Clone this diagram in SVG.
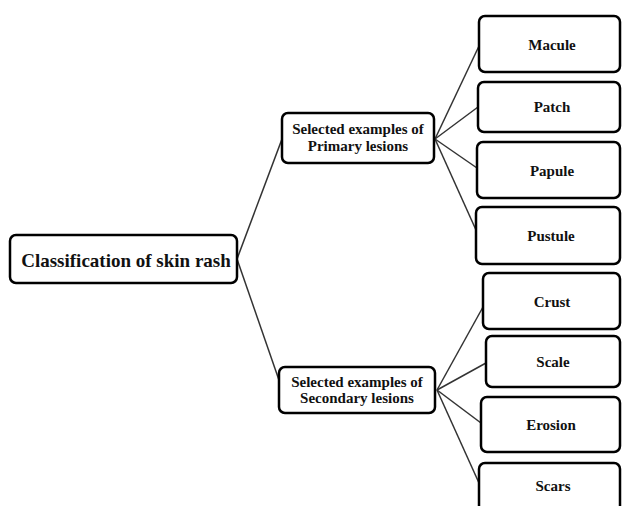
<svg xmlns="http://www.w3.org/2000/svg" width="622" height="506" viewBox="0 0 622 506">
<style>
.box{fill:#fff;stroke:#000;stroke-width:2.5}
.t{font-family:'Liberation Serif','Times New Roman','DejaVu Serif',Times,serif;font-weight:bold;fill:#111;text-anchor:middle;dominant-baseline:central}
.lf{font-size:15px}
.mid{font-size:15px}
.root{font-size:19px}
.con line{stroke:#333;stroke-width:1.5}
</style>
<rect width="622" height="506" fill="#fff"/>
<g id="connectors" class="con">
<line x1="237" y1="259" x2="282" y2="139"/>
<line x1="237" y1="259" x2="280" y2="383"/>
<line x1="435" y1="139" x2="479" y2="46"/>
<line x1="435" y1="139" x2="478" y2="107"/>
<line x1="435" y1="139" x2="477" y2="168"/>
<line x1="435" y1="139" x2="476" y2="230"/>
<line x1="437" y1="390" x2="483" y2="307"/>
<line x1="437" y1="390" x2="486" y2="363"/>
<line x1="437" y1="390" x2="481" y2="423"/>
<line x1="437" y1="390" x2="479" y2="483"/>
</g>
<g font-family="Liberation Serif, serif">
<g id="root"><rect class="box" x="10" y="235" width="227" height="48" rx="6"/><text class="t root" x="126" y="260">Classification of skin rash</text></g>
<g id="primary"><rect class="box" x="282" y="113" width="152" height="50" rx="6"/><text class="t mid" x="358" y="129">Selected examples of</text><text class="t mid" x="358" y="146">Primary lesions</text></g>
<g id="secondary"><rect class="box" x="279" y="367" width="156" height="46" rx="6"/><text class="t mid" x="357" y="382">Selected examples of</text><text class="t mid" x="357" y="398">Secondary lesions</text></g>
<g id="macule"><rect class="box" x="479" y="16" width="141" height="56" rx="6"/><text class="t lf" x="552" y="45">Macule</text></g>
<g id="patch"><rect class="box" x="478" y="82" width="142" height="50" rx="6"/><text class="t lf" x="552" y="107">Patch</text></g>
<g id="papule"><rect class="box" x="477" y="142" width="143" height="56" rx="6"/><text class="t lf" x="552" y="171">Papule</text></g>
<g id="pustule"><rect class="box" x="476" y="207" width="144" height="57" rx="6"/><text class="t lf" x="551" y="236">Pustule</text></g>
<g id="crust"><rect class="box" x="483" y="273" width="137" height="56" rx="6"/><text class="t lf" x="552" y="302">Crust</text></g>
<g id="scale"><rect class="box" x="486" y="336" width="134" height="51" rx="6"/><text class="t lf" x="553" y="362">Scale</text></g>
<g id="erosion"><rect class="box" x="481" y="397" width="139" height="55" rx="6"/><text class="t lf" x="551" y="425">Erosion</text></g>
<g id="scars"><rect class="box" x="479" y="463" width="141" height="60" rx="6"/><text class="t lf" x="553" y="486">Scars</text></g>
</g>
</svg>
